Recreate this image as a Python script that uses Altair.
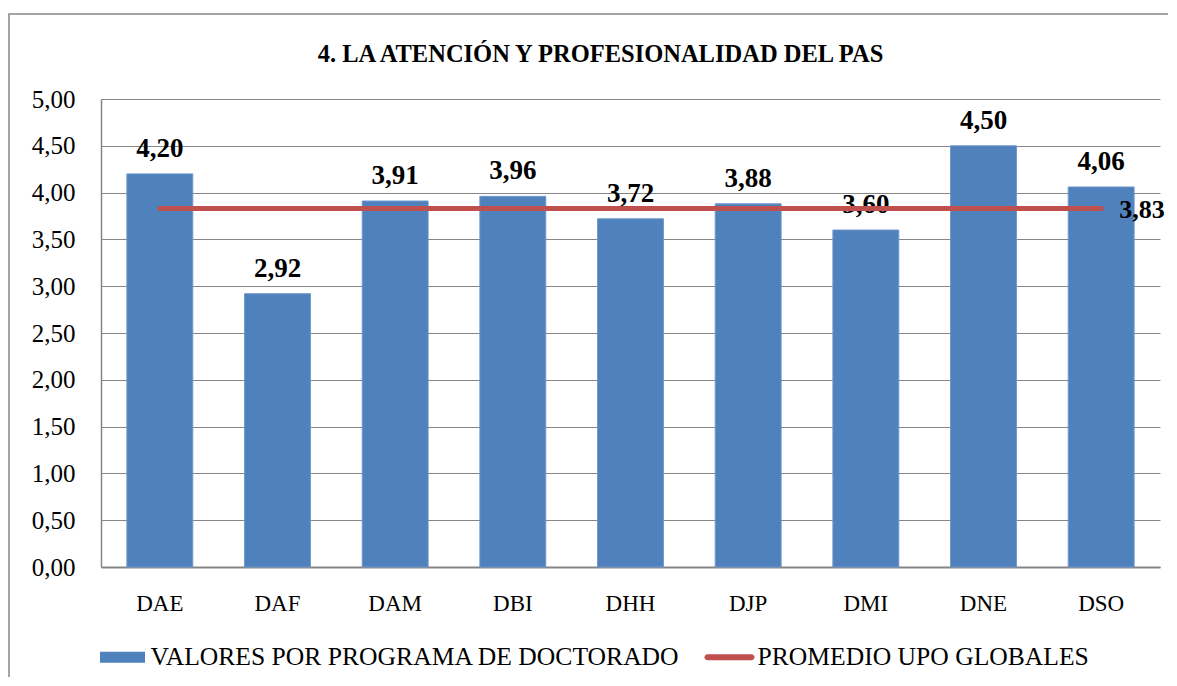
import altair as alt
import pandas as pd
import numpy as np

# ---- data ----
categories = ["DAE", "DAF", "DAM", "DBI", "DHH", "DJP", "DMI", "DNE", "DSO"]
values = [4.20, 2.92, 3.91, 3.96, 3.72, 3.88, 3.60, 4.50, 4.06]
promedio = 3.83
series_names = ["VALORES POR PROGRAMA DE DOCTORADO", "PROMEDIO UPO GLOBALES"]
y_ticks = [0.0, 0.5, 1.0, 1.5, 2.0, 2.5, 3.0, 3.5, 4.0, 4.5, 5.0]
title_text = "4. LA ATENCIÓN Y PROFESIONALIDAD DEL PAS"

BLUE = "#4F81BD"
RED = "#C0504D"
GRAY = "#868686"
FONT = "Liberation Serif"

bars_df = pd.DataFrame({"programa": categories, "valor": values})
avg_df = pd.DataFrame({"inicio": [categories[0]], "fin": [categories[-1]], "valor": [promedio]})
legend_df = pd.DataFrame({"serie": series_names, "valor": [np.nan, np.nan]})

fmt = "replace(format(datum.valor, '.2f'), '.', ',')"

xscale = alt.Scale(domain=categories, paddingInner=0.44, paddingOuter=0.22)
yscale = alt.Scale(domain=[0, 5])

x_axis = alt.Axis(title=None, labelAngle=0, labelFont=FONT, labelFontSize=23,
                  labelColor="black", labelPadding=43, labelBaseline="alphabetic",
                  ticks=False, tickSize=0, domainColor=GRAY, domainWidth=2, grid=False)
y_axis = alt.Axis(title=None, values=y_ticks,
                  labelExpr="replace(format(datum.value, '.2f'), '.', ',')",
                  labelFont=FONT, labelFontSize=25, labelColor="black", labelPadding=26,
                  ticks=False, tickSize=0, domainColor=GRAY, domainWidth=1.5,
                  grid=True, gridColor=GRAY, gridWidth=1)

bars = alt.Chart(bars_df).mark_bar(color=BLUE, stroke="#6E97CB", strokeWidth=1).encode(
    x=alt.X("programa:N", scale=xscale, axis=x_axis),
    y=alt.Y("valor:Q", scale=yscale, axis=y_axis),
)

bar_labels = alt.Chart(bars_df).transform_calculate(lbl=fmt).mark_text(
    font=FONT, fontSize=27, fontWeight="bold", color="black",
    baseline="alphabetic", dy=-17
).encode(
    x=alt.X("programa:N", scale=xscale),
    y=alt.Y("valor:Q", scale=yscale),
    text="lbl:N",
)

avg_rule = alt.Chart(avg_df).mark_rule(color=RED, strokeWidth=5, strokeCap="round").encode(
    x=alt.X("inicio:N", scale=xscale),
    x2="fin:N",
    y=alt.Y("valor:Q", scale=yscale),
)

avg_label = alt.Chart(avg_df).transform_calculate(lbl=fmt).mark_text(
    font=FONT, fontSize=26, fontWeight="bold", color="black",
    align="left", baseline="middle", dx=18, dy=1
).encode(
    x=alt.X("fin:N", scale=xscale),
    y=alt.Y("valor:Q", scale=yscale),
    text="lbl:N",
)

rect_path = "M-0.9,-0.22H0.9V0.22H-0.9Z"
line_path = "M-0.88,-0.12H0.88A0.12,0.12,0,0,1,0.88,0.12H-0.88A0.12,0.12,0,0,1,-0.88,-0.12Z"

leg = alt.Legend(title=None, orient="none", legendX=-3.5, legendY=533, direction="horizontal",
                 columns=2, columnPadding=24, padding=0, symbolSize=2500, symbolStrokeWidth=0,
                 labelFont=FONT, labelFontSize=25.6, labelColor="black", labelOffset=3,
                 labelBaseline="middle", labelLimit=0)

legend_layer = alt.Chart(legend_df).mark_point(filled=True, opacity=1).encode(
    y=alt.Y("valor:Q", scale=yscale),
    color=alt.Color("serie:N", scale=alt.Scale(domain=series_names, range=[BLUE, RED]), legend=leg),
    shape=alt.Shape("serie:N", scale=alt.Scale(domain=series_names, range=[rect_path, line_path]), legend=leg),
)

border = alt.Chart(avg_df).mark_rect(fillOpacity=0, stroke=GRAY, strokeWidth=1.5).encode(
    x=alt.value(-92), x2=alt.value(1300), y=alt.value(-85), y2=alt.value(900)
)

chart = alt.layer(border, bars, bar_labels, avg_rule, avg_label, legend_layer).properties(
    width=1059, height=468,
    autosize=alt.AutoSizeParams(type="none"),
    padding={"left": 93, "top": 91, "right": 8, "bottom": 110},
    title=alt.Title(title_text, font=FONT, fontSize=24.5, fontWeight="bold", color="black",
                    anchor="middle", frame="group", offset=-73, baseline="alphabetic", dx=-30),
).configure_view(strokeWidth=0)

chart.save("out.html", embed_options={"renderer": "svg", "actions": False})
